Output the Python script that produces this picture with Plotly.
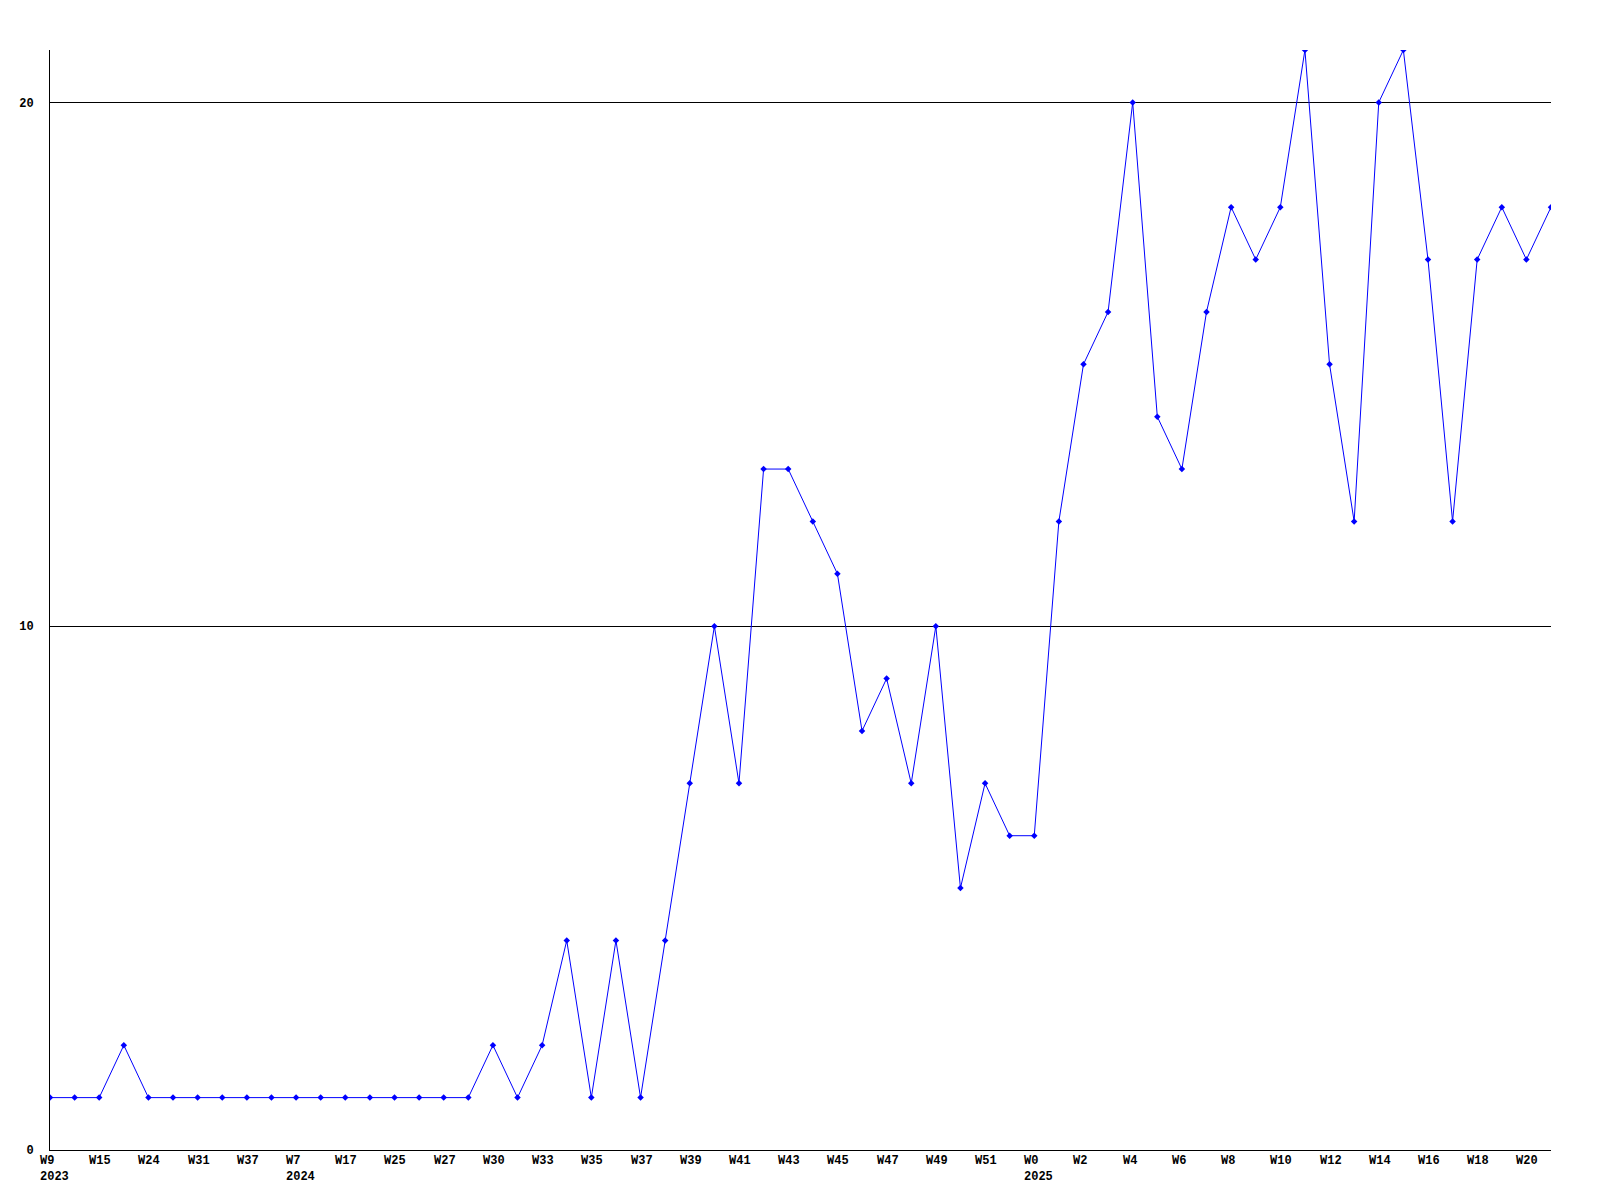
import plotly.graph_objects as go

# Week labels (every other point labelled in the reference; odd ones estimated)
weeks = ["W9", "W12", "W15", "W20", "W24", "W28", "W31", "W34", "W37", "W44",
         "W7", "W12", "W17", "W21", "W25", "W26", "W27", "W29", "W30", "W32",
         "W33", "W34", "W35", "W36", "W37", "W38", "W39", "W40", "W41", "W42",
         "W43", "W44", "W45", "W46", "W47", "W48", "W49", "W50", "W51", "W52",
         "W0", "W1", "W2", "W3", "W4", "W5", "W6", "W7", "W8", "W9",
         "W10", "W11", "W12", "W13", "W14", "W15", "W16", "W17", "W18", "W19",
         "W20", "W21"]
years = {0: "2023", 10: "2024", 40: "2025"}

values = [1, 1, 1, 2, 1, 1, 1, 1, 1, 1,
          1, 1, 1, 1, 1, 1, 1, 1, 2, 1,
          2, 4, 1, 4, 1, 4, 7, 10, 7, 13,
          13, 12, 11, 8, 9, 7, 10, 5, 7, 6,
          6, 12, 15, 16, 20, 14, 13, 16, 18, 17,
          18, 21, 15, 12, 20, 21, 17, 12, 17, 18,
          17, 18]

yticks = [0, 10, 20]

idx = list(range(len(values)))

fig = go.Figure()
fig.add_trace(go.Scatter(
    x=idx, y=values, mode="lines+markers",
    line=dict(color="#0000ff", width=1),
    marker=dict(symbol="diamond", size=5, color="#0000ff"),
    hovertext=weeks,
))

font = dict(family="Liberation Mono, DejaVu Sans Mono, monospace", size=12, color="black")
annotations = []
for i in range(0, len(weeks), 2):
    txt = "<b>" + weeks[i] + "</b>"
    annotations.append(dict(x=i, y=0, xref="x", yref="y", text=txt, showarrow=False,
                            xanchor="left", yanchor="middle", xshift=-12, yshift=-11,
                            font=font))
    if i in years:
        annotations.append(dict(x=i, y=0, xref="x", yref="y", text="<b>" + years[i] + "</b>",
                                showarrow=False, xanchor="left", yanchor="middle",
                                xshift=-12, yshift=-27, font=font))

fig.update_layout(
    width=1592, height=1192,
    margin=dict(l=42, r=49, t=42, b=50),
    paper_bgcolor="white", plot_bgcolor="white",
    showlegend=False,
    annotations=annotations,
    xaxis=dict(range=[0, len(values) - 1], showgrid=False, zeroline=False,
               showticklabels=False, ticks="", showline=True, linecolor="black",
               linewidth=1, automargin=False),
    yaxis=dict(range=[0, 21], tickvals=yticks, ticktext=["<b>%d</b>" % v for v in yticks],
               showgrid=True, gridcolor="black", gridwidth=1, zeroline=False,
               showline=True, linecolor="black", linewidth=1, ticks="",
               ticklabelstandoff=13, tickfont=font, automargin=False),
)

fig.write_html("out.html")
